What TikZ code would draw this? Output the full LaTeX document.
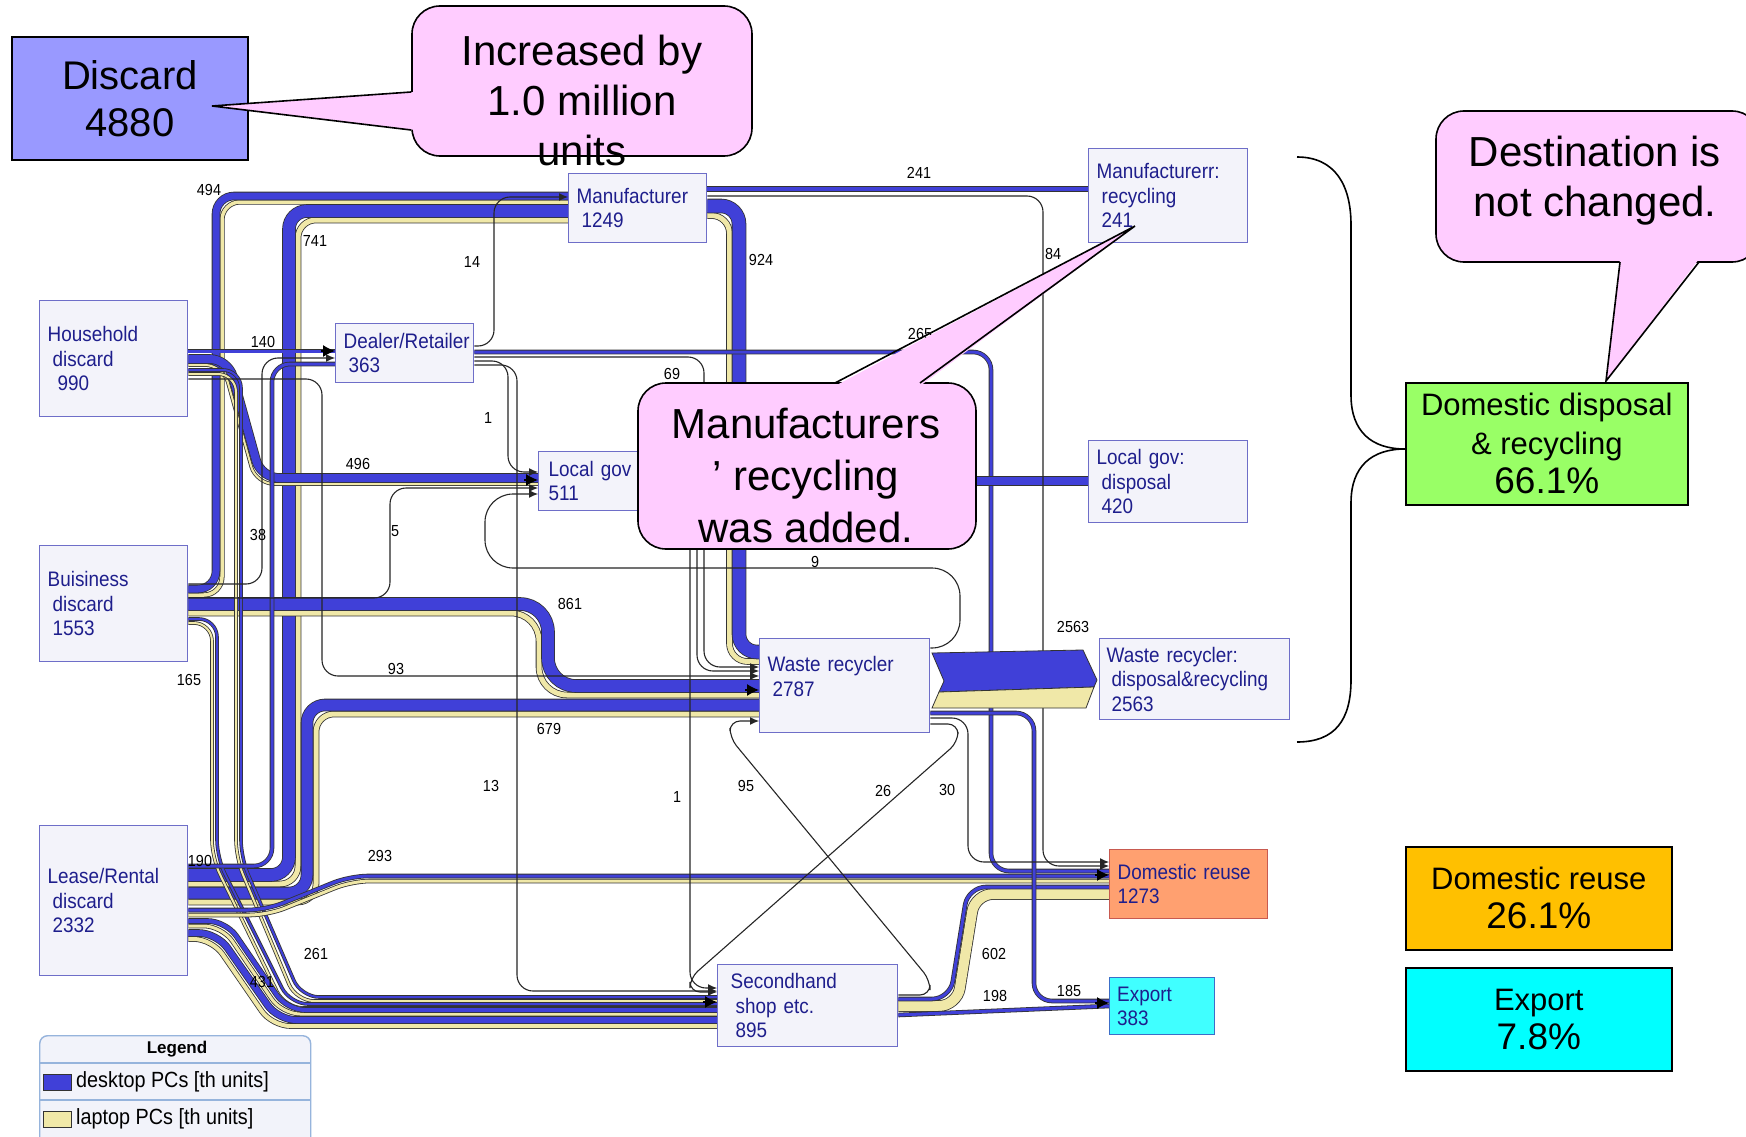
\documentclass[tikz,border=0pt]{standalone}
\usepackage{fontspec}
\setmainfont{Liberation Sans}
\newfontfamily\narrowfam[FakeStretch=0.9]{Liberation Sans}
\usetikzlibrary{arrows.meta}

\definecolor{deskblue}{RGB}{64,64,216}
\definecolor{lapyellow}{RGB}{240,232,168}
\definecolor{boxfill}{RGB}{243,243,250}
\definecolor{boxedge}{RGB}{110,110,200}
\definecolor{boxtext}{RGB}{30,30,140}
\definecolor{pinkfill}{RGB}{255,204,255}
\definecolor{discfill}{RGB}{153,153,255}
\definecolor{grnfill}{RGB}{153,255,102}
\definecolor{orngfill}{RGB}{255,192,0}
\definecolor{cynfill}{RGB}{0,255,255}
\definecolor{reusefill}{RGB}{255,160,112}
\definecolor{reuseedge}{RGB}{200,90,80}
\definecolor{expfill}{RGB}{64,255,255}
\definecolor{expedge}{RGB}{60,110,200}
\definecolor{legedge}{RGB}{150,180,220}
\definecolor{legfill}{RGB}{242,243,250}

\newcommand{\boxfont}{\narrowfam\fontsize{21}{24.5}\selectfont}
\newcommand{\flowfont}{\narrowfam\fontsize{16}{18}\selectfont}
\newcommand{\callfont}{\fontsize{42}{50}\selectfont}
\newcommand{\discfont}{\fontsize{40}{47}\selectfont}
\newcommand{\pctlab}{\fontsize{31}{39}\selectfont}
\newcommand{\pctnum}{\fontsize{37}{41}\selectfont}
\newcommand{\legfont}{\narrowfam\fontsize{22}{24}\selectfont}
\newcommand{\ind}{\hspace*{5pt}}

\pgfdeclarelayer{bg}
\pgfdeclarelayer{flows}
\pgfsetlayers{bg,flows,main}

\begin{document}
\begin{tikzpicture}[x=1pt, y=-1pt,
    box/.style={draw=boxedge, line width=1.4pt, fill=boxfill, anchor=north west,
      inner sep=0pt, align=left, font=\boxfont, text=boxtext},
    dsk/.style={draw=black!80, line width=0.8pt, double=deskblue, double distance=#1, rounded corners=18pt},
    lap/.style={draw=black!80, line width=0.8pt, double=lapyellow, double distance=#1, rounded corners=18pt},
    thinflow/.style={draw=black!85, line width=1.1pt, rounded corners=16pt, -{Latex[length=9pt,width=8pt]}},
    tipin/.style={-{Latex[length=12pt,width=12pt]}, line width=1.2pt},
    flab/.style={font=\flowfont, inner sep=0pt},
    pctbox/.style={draw=black, line width=1.6pt, anchor=north west, align=center, font=\pctlab},
    balloon/.style={draw=black, line width=1.6pt, fill=pinkfill, rounded corners=28pt},
    pointer/.style={draw=black, line width=1.6pt, line join=miter},
    calltext/.style={align=center, font=\callfont, inner sep=0pt},
    swatch/.style={draw=black!80, line width=1pt, minimum width=28pt, minimum height=16pt, inner sep=0pt}]

  \useasboundingbox (0,0) rectangle (1746,1137);
  \begin{pgfonlayer}{bg}
    \fill[white] (0,0) rectangle (1746,1137);
  \end{pgfonlayer}

  % sources
  \node[box, minimum width=148pt, minimum height=116pt, text width=132pt] (hh) at (39,300) {Household\\\ind discard\\\ind\ind 990};
  \node[box, minimum width=148pt, minimum height=116pt, text width=132pt] (bd) at (39,545) {Buisiness\\\ind discard\\\ind 1553};
  \node[box, minimum width=148pt, minimum height=150pt, text width=132pt] (lr) at (39,825) {Lease/Rental\\\ind discard\\\ind 2332};

  % collectors
  \node[box, minimum width=138pt, minimum height=59pt, text width=122pt] (dr) at (335,323) {Dealer/Retailer\\\ind 363};
  \node[box, minimum width=138pt, minimum height=69pt, text width=122pt] (mf) at (568,173) {Manufacturer\\\ind 1249};
  \node[box, minimum width=130pt, minimum height=59pt, text width=110pt] (lg) at (538,451) {Local gov\\511};
  \node[box, minimum width=170pt, minimum height=94pt, text width=154pt] (wr) at (759,638) {Waste recycler\\\ind 2787\\[-6pt]\mbox{}};
  \node[box, minimum width=180pt, minimum height=82pt, text width=154pt] (sh) at (717,964) {Secondhand\\\ind shop etc.\\\ind 895};

  % destinations
  \node[box, minimum width=159pt, minimum height=94pt, text width=143pt] (mr) at (1088,148) {Manufacturerr:\\\ind recycling\\\ind 241};
  \node[box, minimum width=159pt, minimum height=82pt, text width=143pt] (ld) at (1088,440) {Local gov:\\\ind disposal\\\ind 420};
  \node[box, minimum width=190pt, minimum height=81pt, text width=176pt] (wd) at (1099,638) {Waste recycler:\\\ind disposal\&recycling\\\ind 2563};
  \node[box, fill=reusefill, draw=reuseedge, minimum width=158pt, minimum height=69pt, text width=142pt] (reuse) at (1109,849) {Domestic reuse\\1273};
  \node[box, fill=expfill, draw=expedge, minimum width=105pt, minimum height=57pt, text width=90pt] (exp) at (1109,977) {Export\\383};

  \begin{pgfonlayer}{flows}
    % desktop / laptop bands
    \draw[lap=3.5pt] (bd.east |- 0,595) -| (222,202) -- (mf.west |- 0,202);
    \draw[dsk=7pt] (bd.east |- 0,589) -| (216,196) -- (mf.west |- 0,196);
    \draw[lap=5pt] (lr.east |- 0,884) -| (298,220) -- (mf.west |- 0,220);
    \draw[dsk=12pt] (lr.east |- 0,875) -| (289,211) -- (mf.west |- 0,211);
    \draw[lap=5pt] (lr.east |- 0,902) -| (316,714) -- (wr.west |- 0,714);
    \draw[dsk=11pt] (lr.east |- 0,893) -| (307,705) -- (wr.west |- 0,705);
    \draw[lap=5pt, rounded corners=28pt] (bd.east |- 0,613) -| (539,695) -- (wr.west |- 0,695);
    \draw[dsk=12pt, rounded corners=28pt] (bd.east |- 0,604) -| (548,686) -- (wr.west |- 0,686);
    \draw[lap=5pt] (mf.east |- 0,215.5) -| (729.5,661.5) -- (wr.west |- 0,661.5);
    \draw[dsk=13pt] (mf.east |- 0,206) -| (739,652) -- (wr.west |- 0,652);
    \draw[lap=2pt] (hh.east |- 0,365) -- (223,365) -- (256,484) -- (lg.west |- 0,484);
    \draw[dsk=8pt] (hh.east |- 0,359) -- (228,359) -- (261,478) -- (lg.west |- 0,478);
    \draw[lap=2pt] (hh.east |- 0,374) -| (236,858) -- (296,1001) -- (sh.west |- 0,1001);
    \draw[dsk=2pt] (hh.east |- 0,370) -| (241,858) -- (301,997) -- (sh.west |- 0,997);
    \draw[lap=2pt] (bd.east |- 0,623) -| (212,858) -- (285,1008) -- (sh.west |- 0,1008);
    \draw[dsk=2pt] (bd.east |- 0,619) -| (217,858) -- (290,1004) -- (sh.west |- 0,1004);
    \draw[lap=3pt] (lr.east |- 0,926) -- (222,926) -- (282,1014) -- (sh.west |- 0,1014);
    \draw[dsk=4pt] (lr.east |- 0,921) -- (226,921) -- (287,1010) -- (sh.west |- 0,1010);
    \draw[lap=4pt] (lr.east |- 0,939) -- (212,939) -- (272,1026) -- (sh.west |- 0,1026);
    \draw[dsk=6pt] (lr.east |- 0,933) -- (217,933) -- (278,1020) -- (sh.west |- 0,1020);
    \draw[lap=3pt] (lr.east |- 0,915) -- (268,915) -- (352,881) -- (reuse.west |- 0,881);
    \draw[dsk=3pt] (lr.east |- 0,910) -- (266,910) -- (350,876) -- (reuse.west |- 0,876);
    \draw[lap=10pt] (sh.east |- 0,1006) -- (957,1006) -- (975,894) -- (reuse.west |- 0,894);
    \draw[dsk=3pt] (sh.east |- 0,999) -- (950,999) -- (968,887) -- (reuse.west |- 0,887);

    % mostly desktop
    \draw[dsk=3pt] (hh.east |- 0,351) -- (dr.west |- 0,351);
    \draw[dsk=3pt] (lr.east |- 0,866) -| (272,364) -- (dr.west |- 0,364);
    \draw[dsk=3pt] (dr.east |- 0,352) -| (991,871) -- (reuse.west |- 0,871);
    \draw[dsk=4pt] (mf.east |- 0,189) -- (mr.west |- 0,189);
    \draw[dsk=8pt] (lg.east |- 0,481) -- (ld.west |- 0,481);
    \draw[dsk=3pt] (wr.east |- 0,713) -| (1034,1001) -- (exp.west |- 0,1001);
    \draw[dsk=3pt] (sh.east |- 0,1015) -- (exp.west |- 0,1006);

    % small flows
    \draw[thinflow] (dr.east |- 0,346) -| (494,197) -- (mf.west |- 0,197);
    \draw[thinflow] (dr.east |- 0,357) -| (704,667) -- (wr.west |- 0,667);
    \draw[thinflow] (dr.east |- 0,361) -| (508,472) -- (lg.west |- 0,472);
    \draw[thinflow] (dr.east |- 0,365) -| (517,991) -- (sh.west |- 0,991);
    \draw[thinflow] (lg.east |- 0,497) -| (690,988) -- (sh.west |- 0,988);
    \draw[thinflow] (lg.east |- 0,501) -| (697,671) -- (wr.west |- 0,671);
    \draw[thinflow] (hh.east |- 0,379) -| (322,676) -- (wr.west |- 0,676);
    \draw[thinflow] (bd.east |- 0,584) -| (262,358) -- (dr.west |- 0,358);
    \draw[thinflow] (bd.east |- 0,598) -| (390,488) -- (lg.west |- 0,488);
    \draw[thinflow] (mf.east |- 0,196) -| (1043,866) -- (reuse.west |- 0,866);
    \draw[thinflow, rounded corners=28pt] (wr.east |- 0,648) -- (960,648) -- (960,568) -- (485,568) -- (485,494) -- (lg.west |- 0,494);
    \draw[thinflow] (wr.east |- 0,718) -| (968,862) -- (reuse.west |- 0,862);
    \draw[thinflow, rounded corners=10pt] (wr.east |- 0,724) -- (958,724) -- (958,742) -- (690,978) -- (690,992) -- (sh.west |- 0,992);
    \draw[thinflow, rounded corners=10pt] (sh.east |- 0,995) -- (930,995) -- (930,980) -- (730,738) -- (730,721) -- (wr.west |- 0,721);

    % waste recycler to disposal
    \filldraw[fill=deskblue, draw=black!80, line width=0.8pt] (932,653) -- (1083,650) -- (1097,680) -- (1094,687) -- (939,692) -- (944,681) -- cycle;
    \filldraw[fill=lapyellow, draw=black!80, line width=0.8pt] (939,692) -- (1094,687) -- (1086,708) -- (932,708) -- cycle;

    % entry tips
    \draw[tipin] (dr.west |- 0,351) ++(-14,0) -- ++(14,0);
    \draw[tipin] (lg.west |- 0,480) ++(-14,0) -- ++(14,0);
    \draw[tipin] (wr.west |- 0,690) ++(-14,0) -- ++(14,0);
    \draw[tipin] (sh.west |- 0,1002) ++(-14,0) -- ++(14,0);
    \draw[tipin] (reuse.west |- 0,875) ++(-14,0) -- ++(14,0);
    \draw[tipin] (exp.west |- 0,1003) ++(-14,0) -- ++(14,0);
  \end{pgfonlayer}

  % flow values
  \foreach \v/\x/\y [count=\i] in {494/209/190, 741/315/241, 14/472/262, 924/761/260,
      241/919/173, 84/1053/254, 265/920/334, 140/263/342, 69/672/374, 1/488/418,
      496/358/464, 38/258/535, 5/395/531, 9/815/562, 861/570/604, 2563/1073/627,
      93/396/669, 165/189/680, 679/549/729, 13/491/786, 1/677/797, 95/746/786,
      26/883/791, 30/947/790, 190/200/861, 293/380/856, 602/994/954, 261/316/954,
      431/262/982, 198/995/996, 185/1069/991}
    \node[flab] (lab\i) at (\x,\y) {\v};

  % summary boxes
  \node[pctbox, fill=discfill, font=\discfont, minimum width=236pt, minimum height=123pt] (disc) at (11,36) {Discard\\4880};
  \node[pctbox, fill=grnfill, minimum width=282pt, minimum height=122pt] (grn) at (1405,382) {Domestic disposal\\\& recycling\\{\pctnum 66.1\%}};
  \node[pctbox, fill=orngfill, minimum width=266pt, minimum height=103pt] (orng) at (1405,846) {Domestic reuse\\{\pctnum 26.1\%}};
  \node[pctbox, fill=cynfill, minimum width=266pt, minimum height=103pt] (cyn) at (1405,967) {Export\\{\pctnum 7.8\%}};

  % brace
  \draw[line width=1.6pt] (1297,157) .. controls (1335,157) and (1351,185) .. (1351,225) -- (1351,395)
    .. controls (1351,432) and (1372,449) .. (1405,449)
    .. controls (1372,449) and (1351,466) .. (1351,503) -- (1351,680)
    .. controls (1351,720) and (1335,742) .. (1297,742);

  % legend
  \node[draw=legedge, line width=1.4pt, fill=legfill, rounded corners=8pt, anchor=north west,
    minimum width=271pt, minimum height=115pt] (legend) at (39,1035) {};
  \node[font=\bfseries\fontsize{17}{19}\selectfont] (legtitle) at (177,1049) {Legend};
  \draw[legedge, line width=1.2pt] (legend.west |- 0,1063) -- (legend.east |- 0,1063);
  \draw[legedge, line width=1.2pt] (legend.west |- 0,1100) -- (legend.east |- 0,1100);
  \node[swatch, fill=deskblue] (swd) at (57,1082) {};
  \node[anchor=west, font=\legfont, inner sep=0pt] (legd) at (76,1082) {desktop PCs [th units]};
  \node[swatch, fill=lapyellow] (swl) at (57,1119) {};
  \node[anchor=west, font=\legfont, inner sep=0pt] (legl) at (76,1119) {laptop PCs [th units]};

  % callouts
  \node[balloon, minimum width=340pt, minimum height=150pt] (inc) at (582,81) {};
  \fill[pinkfill] (415,92) -- (212,106) -- (415,130) -- cycle;
  \draw[pointer] (inc.west |- 0,92) -- (212,106) -- (inc.west |- 0,130);
  \node[calltext] (inctext) at (582,100) {Increased by\\1.0 million\\units};

  \node[balloon, minimum width=338pt, minimum height=166pt] (man) at (807,466) {};
  \fill[pinkfill] (835,386) -- (1135,226) -- (920,386) -- cycle;
  \draw[pointer] (835,383) -- (1135,226) -- (920,383);
  \node[calltext, font=\fontsize{42}{52}\selectfont] (mantext) at (806,476) {Manufacturers\\’ recycling\\was added.};

  \node[balloon, minimum width=324pt, minimum height=151pt] (dest) at (1598,186.5) {};
  \fill[pinkfill] (1620,259) -- (1606,381) -- (1699,259) -- cycle;
  \draw[pointer] (1620,262) -- (1606,381) -- (1699,262);
  \node[calltext] (desttext) at (1595,181) {Destination is\\not changed.};

\end{tikzpicture}
\end{document}
